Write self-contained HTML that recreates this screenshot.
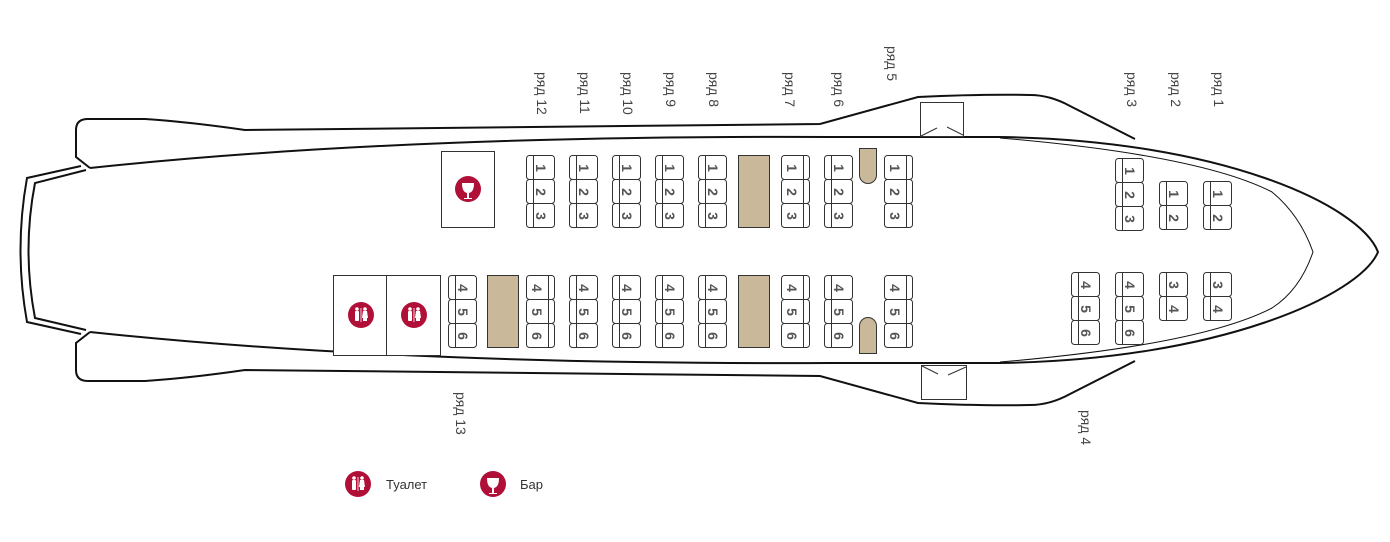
<!DOCTYPE html>
<html><head><meta charset="utf-8"><style>
html,body{margin:0;padding:0;background:#fff;width:1390px;height:542px;overflow:hidden}
svg{display:block}
.n{font-family:"Liberation Sans",sans-serif;font-size:14px;font-weight:bold;fill:#555}
.l{font-family:"Liberation Sans",sans-serif;font-size:14px;fill:#444}
</style></head><body>
<svg width="1390" height="542" viewBox="0 0 1390 542" xmlns="http://www.w3.org/2000/svg">
<g fill="none" stroke="#111" stroke-width="2">
<path d="M90,168 L76,157 L76,130 Q76,119 88,119 L145,119 Q190,122 245,130 L820,124 Q870,110 918,97 Q980,94 1030,95 Q1050,95 1070,106 L1135,139"/>
<path d="M90,332 L76,343 L76,370 Q76,381 88,381 L145,381 Q190,378 245,370 L820,376 Q870,390 918,403 Q980,406 1030,405 Q1050,405 1070,394 L1135,361"/>
<path d="M90,168 Q400,135 830,137 L1000,137 C1220,140 1360,205 1378,252 C1360,295 1220,360 1000,363 L830,363 Q400,365 90,332"/>
<path d="M81,166 L27,178 Q14,250 27,322 L81,334"/>
<path d="M86,170 L35,183 Q22,250 35,318 L86,330"/>
</g>
<path d="M1000,138 Q1200,155 1272,192 Q1300,215 1313,252 Q1300,290 1272,308 Q1200,345 1000,362" fill="none" stroke="#111" stroke-width="1"/>
<g fill="#fff" stroke="#333" stroke-width="1">
<rect x="920.5" y="102.5" width="43" height="34"/>
<rect x="921.5" y="365.5" width="45" height="34"/>
</g>
<g stroke="#333" stroke-width="1" fill="none">
<path d="M921,136 L937,128 M947,127 L963,135"/>
<path d="M922,366 L938,374 M948,375 L966,367"/>
</g>
<g fill="#fff" stroke="#333" stroke-width="1">
<rect x="441.5" y="151.5" width="53" height="76"/>
<rect x="333.5" y="275.5" width="53" height="80"/>
<rect x="386.5" y="275.5" width="54" height="80"/>
</g>
<g fill="#c9b99a" stroke="#333" stroke-width="1">
<rect x="738.5" y="155.5" width="31" height="72"/>
<rect x="487.5" y="275.5" width="31" height="72"/>
<rect x="738.5" y="275.5" width="31" height="72"/>
<path d="M859.5,148.5 L876.5,148.5 L876.5,175 A8.5,8.5 0 0 1 859.5,175 Z"/>
<path d="M859.5,353.5 L876.5,353.5 L876.5,326 A8.5,8.5 0 0 0 859.5,326 Z"/>
</g>
<g>
<circle cx="468" cy="189" r="13" fill="#b01038"/>
<path d="M462,183 L474,183 Q474,193 468,193 Q462,193 462,183 Z M467,193 L469,193 L469,198 L472,198 L472,199 L464,199 L464,198 L467,198 Z" fill="#fff"/>
<circle cx="361" cy="315" r="13" fill="#b01038"/>
<circle cx="414" cy="315" r="13" fill="#b01038"/>
<circle cx="358" cy="484" r="13" fill="#b01038"/>
<circle cx="493" cy="484" r="13" fill="#b01038"/>
<path d="M487,478 L499,478 Q499,488 493,488 Q487,488 487,478 Z M492,488 L494,488 L494,493 L497,493 L497,494 L489,494 L489,493 L492,493 Z" fill="#fff"/>
<g fill="#fff">
<g transform="translate(361,315)"><circle cx="-4" cy="-6" r="1.8"/><rect x="-6" y="-4" width="4" height="10" rx="1"/><circle cx="4" cy="-6" r="1.8"/><path d="M2,-4 L6,-4 L7,3 L6,3 L6,6 L2,6 L2,3 L1,3 Z"/><rect x="-0.4" y="-7" width="0.8" height="14"/></g>
<g transform="translate(414,315)"><circle cx="-4" cy="-6" r="1.8"/><rect x="-6" y="-4" width="4" height="10" rx="1"/><circle cx="4" cy="-6" r="1.8"/><path d="M2,-4 L6,-4 L7,3 L6,3 L6,6 L2,6 L2,3 L1,3 Z"/><rect x="-0.4" y="-7" width="0.8" height="14"/></g>
<g transform="translate(358,484)"><circle cx="-4" cy="-6" r="1.8"/><rect x="-6" y="-4" width="4" height="10" rx="1"/><circle cx="4" cy="-6" r="1.8"/><path d="M2,-4 L6,-4 L7,3 L6,3 L6,6 L2,6 L2,3 L1,3 Z"/><rect x="-0.4" y="-7" width="0.8" height="14"/></g>
</g>
</g>
<text x="386" y="489" font-family="Liberation Sans,sans-serif" font-size="13" fill="#333">Туалет</text>
<text x="520" y="489" font-family="Liberation Sans,sans-serif" font-size="13" fill="#333">Бар</text>

<g class="l">
<text transform="translate(537,72) rotate(90)">ряд 12</text>
<text transform="translate(580,72) rotate(90)">ряд 11</text>
<text transform="translate(623,72) rotate(90)">ряд 10</text>
<text transform="translate(666,72) rotate(90)">ряд 9</text>
<text transform="translate(709,72) rotate(90)">ряд 8</text>
<text transform="translate(785,72) rotate(90)">ряд 7</text>
<text transform="translate(834,72) rotate(90)">ряд 6</text>
<text transform="translate(887,46) rotate(90)">ряд 5</text>
<text transform="translate(1127,72) rotate(90)">ряд 3</text>
<text transform="translate(1171,72) rotate(90)">ряд 2</text>
<text transform="translate(1214,72) rotate(90)">ряд 1</text>
<text transform="translate(456,392) rotate(90)">ряд 13</text>
<text transform="translate(1081,410) rotate(90)">ряд 4</text>
</g>

<g stroke="#333" stroke-width="1" fill="#fff">
<rect x="526.5" y="155.5" width="28" height="24" rx="3"/><rect x="526.5" y="179.5" width="28" height="24" rx="3"/><rect x="526.5" y="203.5" width="28" height="24" rx="3"/>
<rect x="569.5" y="155.5" width="28" height="24" rx="3"/><rect x="569.5" y="179.5" width="28" height="24" rx="3"/><rect x="569.5" y="203.5" width="28" height="24" rx="3"/>
<rect x="612.5" y="155.5" width="28" height="24" rx="3"/><rect x="612.5" y="179.5" width="28" height="24" rx="3"/><rect x="612.5" y="203.5" width="28" height="24" rx="3"/>
<rect x="655.5" y="155.5" width="28" height="24" rx="3"/><rect x="655.5" y="179.5" width="28" height="24" rx="3"/><rect x="655.5" y="203.5" width="28" height="24" rx="3"/>
<rect x="698.5" y="155.5" width="28" height="24" rx="3"/><rect x="698.5" y="179.5" width="28" height="24" rx="3"/><rect x="698.5" y="203.5" width="28" height="24" rx="3"/>
<rect x="781.5" y="155.5" width="28" height="24" rx="3"/><rect x="781.5" y="179.5" width="28" height="24" rx="3"/><rect x="781.5" y="203.5" width="28" height="24" rx="3"/>
<rect x="824.5" y="155.5" width="28" height="24" rx="3"/><rect x="824.5" y="179.5" width="28" height="24" rx="3"/><rect x="824.5" y="203.5" width="28" height="24" rx="3"/>
<rect x="884.5" y="155.5" width="28" height="24" rx="3"/><rect x="884.5" y="179.5" width="28" height="24" rx="3"/><rect x="884.5" y="203.5" width="28" height="24" rx="3"/>
<rect x="448.5" y="275.5" width="28" height="24" rx="3"/><rect x="448.5" y="299.5" width="28" height="24" rx="3"/><rect x="448.5" y="323.5" width="28" height="24" rx="3"/>
<rect x="526.5" y="275.5" width="28" height="24" rx="3"/><rect x="526.5" y="299.5" width="28" height="24" rx="3"/><rect x="526.5" y="323.5" width="28" height="24" rx="3"/>
<rect x="569.5" y="275.5" width="28" height="24" rx="3"/><rect x="569.5" y="299.5" width="28" height="24" rx="3"/><rect x="569.5" y="323.5" width="28" height="24" rx="3"/>
<rect x="612.5" y="275.5" width="28" height="24" rx="3"/><rect x="612.5" y="299.5" width="28" height="24" rx="3"/><rect x="612.5" y="323.5" width="28" height="24" rx="3"/>
<rect x="655.5" y="275.5" width="28" height="24" rx="3"/><rect x="655.5" y="299.5" width="28" height="24" rx="3"/><rect x="655.5" y="323.5" width="28" height="24" rx="3"/>
<rect x="698.5" y="275.5" width="28" height="24" rx="3"/><rect x="698.5" y="299.5" width="28" height="24" rx="3"/><rect x="698.5" y="323.5" width="28" height="24" rx="3"/>
<rect x="781.5" y="275.5" width="28" height="24" rx="3"/><rect x="781.5" y="299.5" width="28" height="24" rx="3"/><rect x="781.5" y="323.5" width="28" height="24" rx="3"/>
<rect x="824.5" y="275.5" width="28" height="24" rx="3"/><rect x="824.5" y="299.5" width="28" height="24" rx="3"/><rect x="824.5" y="323.5" width="28" height="24" rx="3"/>
<rect x="884.5" y="275.5" width="28" height="24" rx="3"/><rect x="884.5" y="299.5" width="28" height="24" rx="3"/><rect x="884.5" y="323.5" width="28" height="24" rx="3"/>
<rect x="1115.5" y="158.5" width="28" height="24" rx="3"/><rect x="1115.5" y="182.5" width="28" height="24" rx="3"/><rect x="1115.5" y="206.5" width="28" height="24" rx="3"/>
<rect x="1159.5" y="181.5" width="28" height="24" rx="3"/><rect x="1159.5" y="205.5" width="28" height="24" rx="3"/>
<rect x="1203.5" y="181.5" width="28" height="24" rx="3"/><rect x="1203.5" y="205.5" width="28" height="24" rx="3"/>
<rect x="1071.5" y="272.5" width="28" height="24" rx="3"/><rect x="1071.5" y="296.5" width="28" height="24" rx="3"/><rect x="1071.5" y="320.5" width="28" height="24" rx="3"/>
<rect x="1115.5" y="272.5" width="28" height="24" rx="3"/><rect x="1115.5" y="296.5" width="28" height="24" rx="3"/><rect x="1115.5" y="320.5" width="28" height="24" rx="3"/>
<rect x="1159.5" y="272.5" width="28" height="24" rx="3"/><rect x="1159.5" y="296.5" width="28" height="24" rx="3"/>
<rect x="1203.5" y="272.5" width="28" height="24" rx="3"/><rect x="1203.5" y="296.5" width="28" height="24" rx="3"/>
<path fill="none" d="M533.5,156V227 M576.5,156V227 M619.5,156V227 M662.5,156V227 M705.5,156V227 M803.5,156V227 M831.5,156V227 M906.5,156V227
M455.5,276V347 M548.5,276V347 M576.5,276V347 M619.5,276V347 M662.5,276V347 M705.5,276V347 M803.5,276V347 M831.5,276V347 M906.5,276V347
M1122.5,159V230 M1166.5,182V229 M1210.5,182V229 M1078.5,273V344 M1122.5,273V344 M1166.5,273V320 M1210.5,273V320"/>
</g>

<g class="n" text-anchor="middle">
<text transform="translate(536,168) rotate(90)">1</text><text transform="translate(536,192) rotate(90)">2</text><text transform="translate(536,216) rotate(90)">3</text>
<text transform="translate(579,168) rotate(90)">1</text><text transform="translate(579,192) rotate(90)">2</text><text transform="translate(579,216) rotate(90)">3</text>
<text transform="translate(622,168) rotate(90)">1</text><text transform="translate(622,192) rotate(90)">2</text><text transform="translate(622,216) rotate(90)">3</text>
<text transform="translate(665,168) rotate(90)">1</text><text transform="translate(665,192) rotate(90)">2</text><text transform="translate(665,216) rotate(90)">3</text>
<text transform="translate(708,168) rotate(90)">1</text><text transform="translate(708,192) rotate(90)">2</text><text transform="translate(708,216) rotate(90)">3</text>
<text transform="translate(787,168) rotate(90)">1</text><text transform="translate(787,192) rotate(90)">2</text><text transform="translate(787,216) rotate(90)">3</text>
<text transform="translate(834,168) rotate(90)">1</text><text transform="translate(834,192) rotate(90)">2</text><text transform="translate(834,216) rotate(90)">3</text>
<text transform="translate(890,168) rotate(90)">1</text><text transform="translate(890,192) rotate(90)">2</text><text transform="translate(890,216) rotate(90)">3</text>
<text transform="translate(458,288) rotate(90)">4</text><text transform="translate(458,312) rotate(90)">5</text><text transform="translate(458,336) rotate(90)">6</text>
<text transform="translate(532,288) rotate(90)">4</text><text transform="translate(532,312) rotate(90)">5</text><text transform="translate(532,336) rotate(90)">6</text>
<text transform="translate(579,288) rotate(90)">4</text><text transform="translate(579,312) rotate(90)">5</text><text transform="translate(579,336) rotate(90)">6</text>
<text transform="translate(622,288) rotate(90)">4</text><text transform="translate(622,312) rotate(90)">5</text><text transform="translate(622,336) rotate(90)">6</text>
<text transform="translate(665,288) rotate(90)">4</text><text transform="translate(665,312) rotate(90)">5</text><text transform="translate(665,336) rotate(90)">6</text>
<text transform="translate(708,288) rotate(90)">4</text><text transform="translate(708,312) rotate(90)">5</text><text transform="translate(708,336) rotate(90)">6</text>
<text transform="translate(787,288) rotate(90)">4</text><text transform="translate(787,312) rotate(90)">5</text><text transform="translate(787,336) rotate(90)">6</text>
<text transform="translate(834,288) rotate(90)">4</text><text transform="translate(834,312) rotate(90)">5</text><text transform="translate(834,336) rotate(90)">6</text>
<text transform="translate(890,288) rotate(90)">4</text><text transform="translate(890,312) rotate(90)">5</text><text transform="translate(890,336) rotate(90)">6</text>
<text transform="translate(1125,171) rotate(90)">1</text><text transform="translate(1125,195) rotate(90)">2</text><text transform="translate(1125,219) rotate(90)">3</text>
<text transform="translate(1169,194) rotate(90)">1</text><text transform="translate(1169,218) rotate(90)">2</text>
<text transform="translate(1213,194) rotate(90)">1</text><text transform="translate(1213,218) rotate(90)">2</text>
<text transform="translate(1081,285) rotate(90)">4</text><text transform="translate(1081,309) rotate(90)">5</text><text transform="translate(1081,333) rotate(90)">6</text>
<text transform="translate(1125,285) rotate(90)">4</text><text transform="translate(1125,309) rotate(90)">5</text><text transform="translate(1125,333) rotate(90)">6</text>
<text transform="translate(1169,285) rotate(90)">3</text><text transform="translate(1169,309) rotate(90)">4</text>
<text transform="translate(1213,285) rotate(90)">3</text><text transform="translate(1213,309) rotate(90)">4</text>
</g>
</svg>
</body></html>
